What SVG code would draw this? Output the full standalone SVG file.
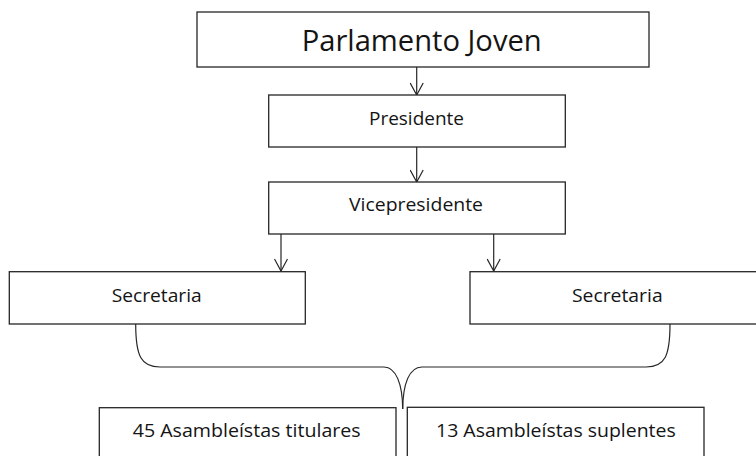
<svg xmlns="http://www.w3.org/2000/svg" width="756" height="456" viewBox="0 0 756 456">
<style>
.box{fill:#ffffff;stroke:#262626;stroke-width:1.3}
.lbl{font-family:"Open Sans","Noto Sans",sans-serif;fill:#141414;text-anchor:middle}
.con{fill:none;stroke:#262626;stroke-width:1.2}
</style>
<defs>
<marker id="vh" viewBox="0 0 14 14" refX="13" refY="7" markerWidth="14" markerHeight="14" markerUnits="userSpaceOnUse" orient="auto">
<path d="M1,0.5 L13,7 L1,13.5" fill="none" stroke="#262626" stroke-width="1.2"/>
</marker>
</defs>
<rect width="756" height="456" fill="#ffffff"/>
<g id="connectors">
<path class="con" d="M416.7,67 V95" marker-end="url(#vh)"/>
<path class="con" d="M416.7,147 V182" marker-end="url(#vh)"/>
<path class="con" d="M281,234 V271" marker-end="url(#vh)"/>
<path class="con" d="M493.7,234 V271" marker-end="url(#vh)"/>
<path class="con" d="M135.7,324 C135.7,356 141,367 160,367 L384,367 C396,367 402.5,384 402.7,409"/>
<path class="con" d="M670,324 C670,356 665,367 646,367 L422,367 C409,367 403,384 402.7,409"/>
</g>
<g id="parlamento">
<rect class="box" x="197" y="12" width="452" height="55"/>
<text class="lbl" x="421.7" y="51" font-size="30" textLength="240" lengthAdjust="spacingAndGlyphs">Parlamento Joven</text>
</g>
<g id="presidente">
<rect class="box" x="268.7" y="95" width="296.6" height="52"/>
<text class="lbl" x="416.5" y="125.3" font-size="19" textLength="95" lengthAdjust="spacingAndGlyphs">Presidente</text>
</g>
<g id="vicepresidente">
<rect class="box" x="268.7" y="182" width="296.6" height="52"/>
<text class="lbl" x="416" y="211" font-size="19" textLength="134" lengthAdjust="spacingAndGlyphs">Vicepresidente</text>
</g>
<g id="secretaria-izq">
<rect class="box" x="9.3" y="271.7" width="296" height="52.3"/>
<text class="lbl" x="156.7" y="302.3" font-size="19" textLength="90" lengthAdjust="spacingAndGlyphs">Secretaria</text>
</g>
<g id="secretaria-der">
<rect class="box" x="470" y="271.7" width="297" height="52.3"/>
<text class="lbl" x="617.3" y="302.3" font-size="19" textLength="90.7" lengthAdjust="spacingAndGlyphs">Secretaria</text>
</g>
<g id="titulares">
<rect class="box" x="99.3" y="407.7" width="296.7" height="60"/>
<text class="lbl" x="246.7" y="437.3" font-size="19" textLength="228" lengthAdjust="spacingAndGlyphs">45 Asambleístas titulares</text>
</g>
<g id="suplentes">
<rect class="box" x="407.3" y="407.3" width="296.7" height="60"/>
<text class="lbl" x="555.9" y="437" font-size="19" textLength="239.7" lengthAdjust="spacingAndGlyphs">13 Asambleístas suplentes</text>
</g>
</svg>
